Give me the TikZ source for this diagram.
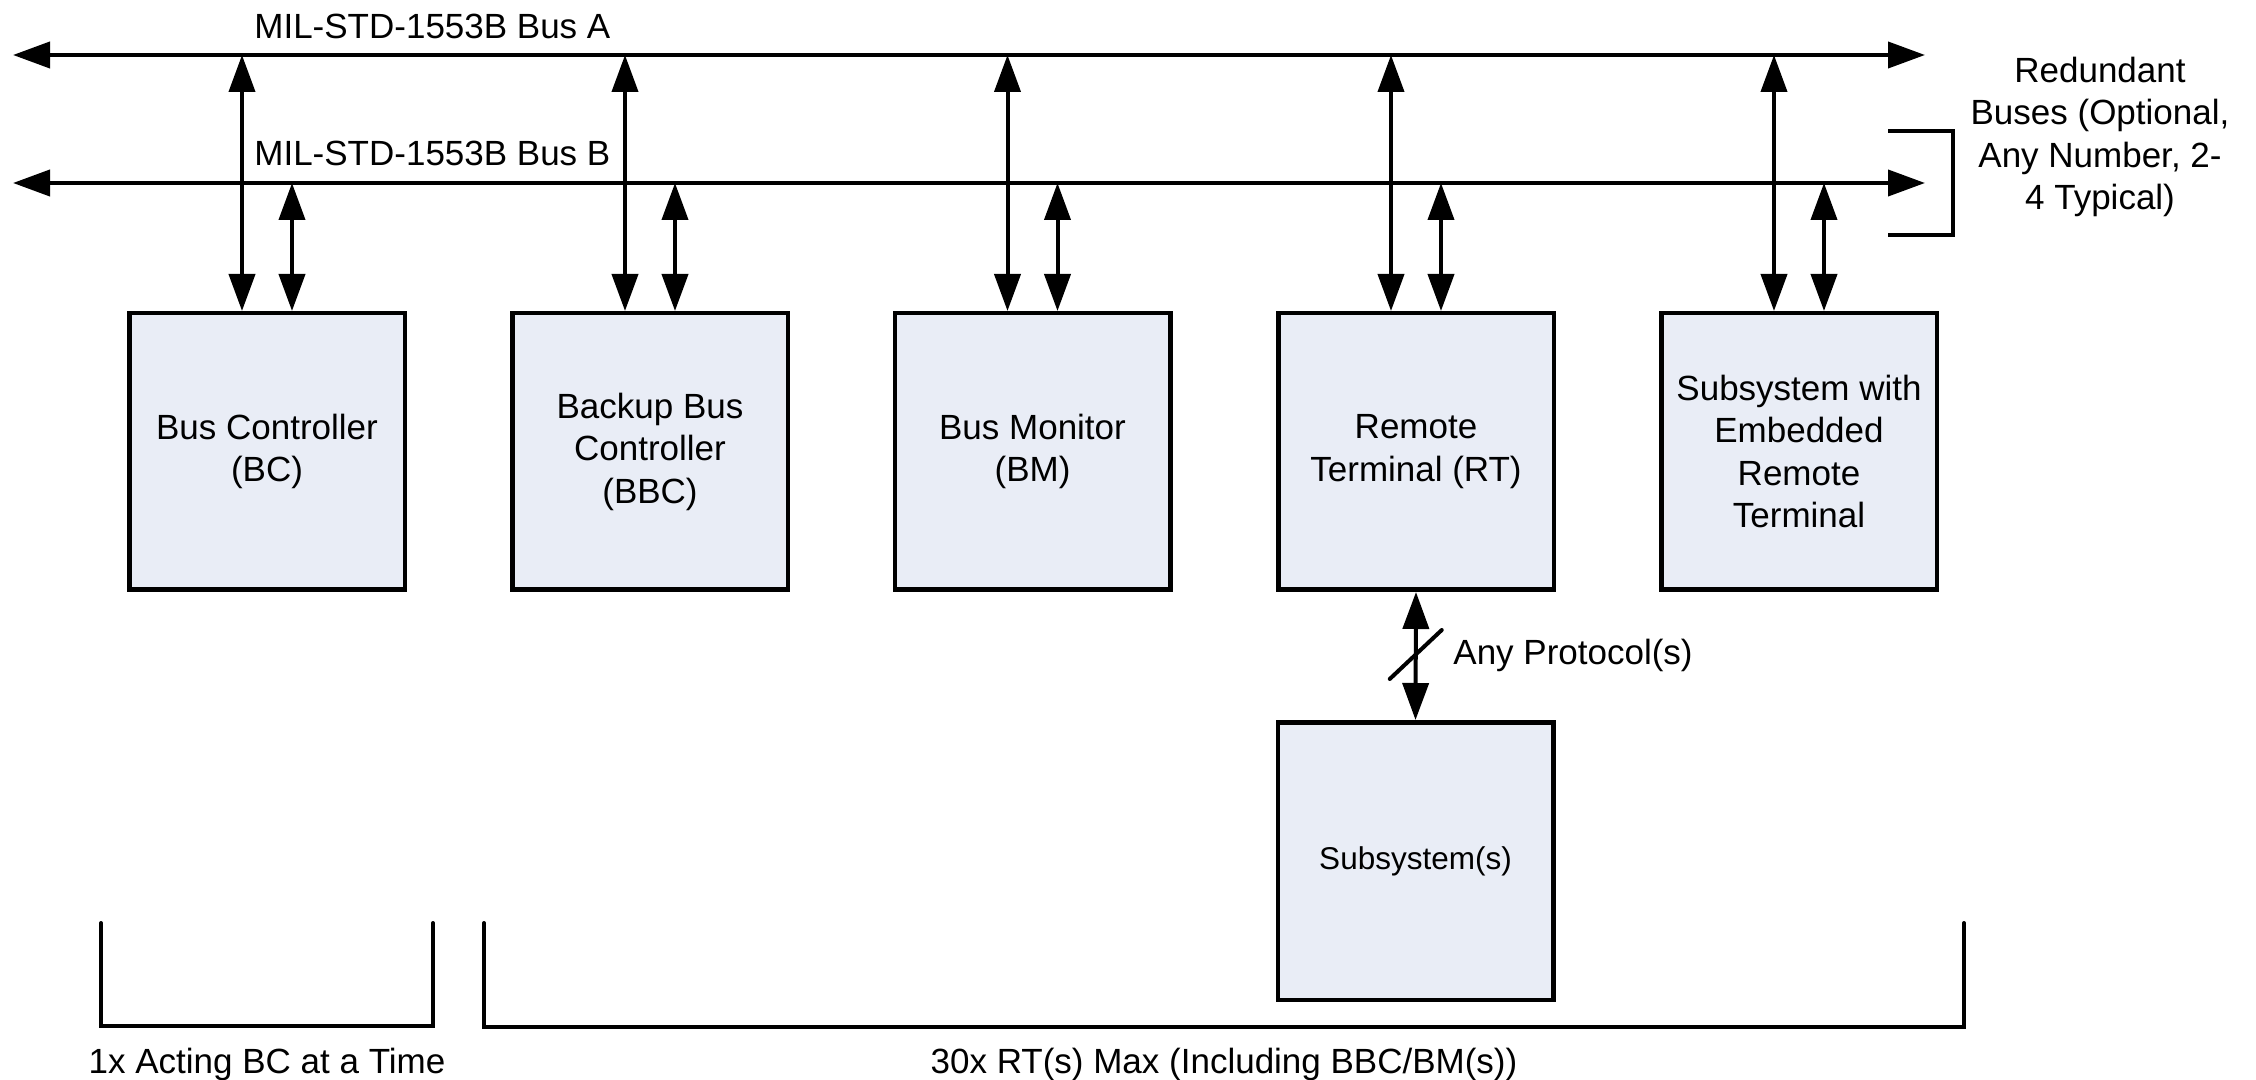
\documentclass[tikz,border=0pt]{standalone}
\usepackage{fontspec}
\setmainfont{Liberation Sans}
\usetikzlibrary{arrows.meta,calc}
\definecolor{boxfill}{RGB}{233,237,246}
\begin{document}
\begin{tikzpicture}[x=0.5pt,y=-0.5pt,
  >={Triangle[length=18.5pt,width=13pt]},
  every node/.style={font=\fontsize{17.5}{21.25}\selectfont},
  wire/.style={line width=2pt,<->},
  brace/.style={line width=2pt,line cap=round},
  devbox/.style={draw,line width=2.25pt,fill=boxfill,minimum width=137.75pt,
    minimum height=138.25pt,align=center,inner sep=0pt},
  lbl/.style={inner sep=0pt}]
\useasboundingbox[fill=white] (0,0) rectangle (2256,1080);

% buses
\coordinate (aL) at (13,55);  \coordinate (aR) at (1925,55);
\coordinate (bL) at (13,183); \coordinate (bR) at (1925,183);
\draw[wire] (aL) -- (aR);
\draw[wire] (bL) -- (bR);
\node[lbl,anchor=base west] (labA) at (254,39) {MIL-STD-1553B Bus A};
\node[lbl,anchor=base west] (labB) at (254,166) {MIL-STD-1553B Bus B};

% boxes
\node[devbox] (bc)  at (267,451.5)  {Bus Controller\\(BC)};
\node[devbox] (bbc) at (650,451.5)  {Backup Bus\\Controller\\(BBC)};
\node[devbox] (bm)  at (1032.5,451.5) {Bus Monitor\\(BM)};
\node[devbox] (rt)  at (1416,451.5) {Remote\\Terminal (RT)};
\node[devbox] (srt) at (1799,451.5) {Subsystem with\\Embedded\\Remote\\Terminal};
\node[devbox,minimum height=138.75pt,font=\fontsize{15.75}{19}\selectfont] (sub) at (1415.5,861) {Subsystem(s)};

% bus taps
\foreach \n in {bc,bbc,bm,rt,srt}{
  \draw[wire] ([xshift=-12.5pt]\n.north) -- ([xshift=-12.5pt]\n.north |- aL);
  \draw[wire] ([xshift=12.5pt]\n.north) -- ([xshift=12.5pt]\n.north |- bL);
}

% protocol link
\draw[wire] (rt.south) -- (sub.north);
\coordinate (mid) at ($(rt.south)!0.5!(sub.north)$);
\draw[brace] ([shift={(-13pt,-11.5pt)}]mid) -- ([shift={(13pt,13pt)}]mid);
\node[lbl,anchor=base west] (proto) at (1453,665) {Any Protocol(s)};

% redundant buses bracket
\coordinate (r1) at (1888,131); \coordinate (r2) at (1953,131);
\coordinate (r3) at (1953,235); \coordinate (r4) at (1888,235);
\draw[line width=2pt] (r1) -- (r2) -- (r3) -- (r4);
\node[lbl,align=center,anchor=base] (red) at (2100,210)
  {Redundant\\Buses (Optional,\\Any Number, 2-\\4 Typical)};

% bottom brackets
\coordinate (p1) at (101,923); \coordinate (p2) at (101,1026);
\coordinate (p3) at (433,1026); \coordinate (p4) at (433,923);
\draw[brace] (p1) -- (p2) -- (p3) -- (p4);
\coordinate (q1) at (484,923); \coordinate (q2) at (484,1027);
\coordinate (q3) at (1964,1027); \coordinate (q4) at (1964,923);
\draw[brace] (q1) -- (q2) -- (q3) -- (q4);
\node[lbl,anchor=base] (one) at (267,1073) {1x Acting BC at a Time};
\node[lbl,anchor=base] (thirty) at (1224,1073) {30x RT(s) Max (Including BBC/BM(s))};
\end{tikzpicture}
\end{document}
